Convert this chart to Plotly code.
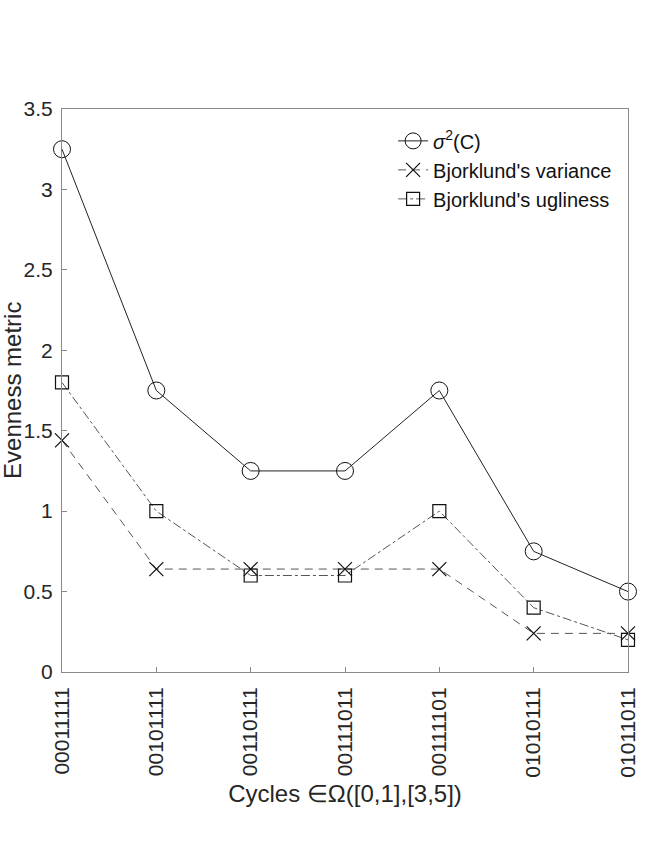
import plotly.graph_objects as go

cycles = ["00011111", "00101111", "00110111", "00111011", "00111101", "01010111", "01011011"]
sigma2 = [3.25, 1.75, 1.25, 1.25, 1.75, 0.75, 0.5]
bj_variance = [1.44, 0.64, 0.64, 0.64, 0.64, 0.24, 0.24]
bj_ugliness = [1.8, 1.0, 0.6, 0.6, 1.0, 0.4, 0.2]
yticks = [0, 0.5, 1, 1.5, 2, 2.5, 3, 3.5]
ytick_text = ["0", "0.5", "1", "1.5", "2", "2.5", "3", "3.5"]

FONT = "Liberation Sans, Arial, sans-serif"
fig = go.Figure()
fig.add_trace(go.Scatter(
    x=cycles, y=sigma2, mode="lines+markers", name="<i>σ</i><sup>2</sup>(C)",
    line=dict(color="#222222", width=1),
    marker=dict(symbol="circle-open", size=17, color="#111111", line=dict(width=1)),
    cliponaxis=False))
fig.add_trace(go.Scatter(
    x=cycles, y=bj_variance, mode="lines+markers", name="Bjorklund's variance",
    line=dict(color="#555555", width=1, dash="8px,6px"),
    marker=dict(symbol="x-thin-open", size=14, color="#111111", line=dict(width=1.2)),
    cliponaxis=False))
fig.add_trace(go.Scatter(
    x=cycles, y=bj_ugliness, mode="lines+markers", name="Bjorklund's ugliness",
    line=dict(color="#555555", width=1, dash="dashdot"),
    marker=dict(symbol="square-open", size=13, color="#111111", line=dict(width=1.2)),
    cliponaxis=False))

axis_common = dict(showline=True, linecolor="#8a8a8a", linewidth=1, mirror=True,
                   ticks="inside", ticklen=5, tickcolor="#8a8a8a", showgrid=False,
                   zeroline=False, automargin=False,
                   tickfont=dict(family=FONT, size=21, color="#262626"))
fig.update_layout(
    width=664, height=860, plot_bgcolor="white", paper_bgcolor="white",
    margin=dict(l=62, r=36, t=109, b=188),
    xaxis=dict(**axis_common, type="category", range=[0, 6], tickangle=-90, ticklabelstandoff=6,
               title=dict(text="Cycles ∈Ω([0,1],[3,5])", font=dict(family=FONT, size=24, color="#262626"), standoff=8)),
    yaxis=dict(**axis_common, range=[0, 3.5], tickvals=yticks, ticktext=ytick_text, ticklabelstandoff=4),
    legend=dict(x=0.585, y=0.978, xanchor="left", yanchor="top", bgcolor="rgba(255,255,255,1)",
                font=dict(family=FONT, size=20, color="#111111"), tracegroupgap=0,
                itemwidth=30),
    annotations=[dict(text="Evenness metric", xref="paper", yref="paper", x=-0.0875, y=0.5,
                      xanchor="center", yanchor="middle", textangle=-90, showarrow=False,
                      font=dict(family=FONT, size=24, color="#262626"))],
    showlegend=True,
)
fig.write_html("out.html", config={"displayModeBar": False},
               post_script="document.body.style.margin='0px';")
